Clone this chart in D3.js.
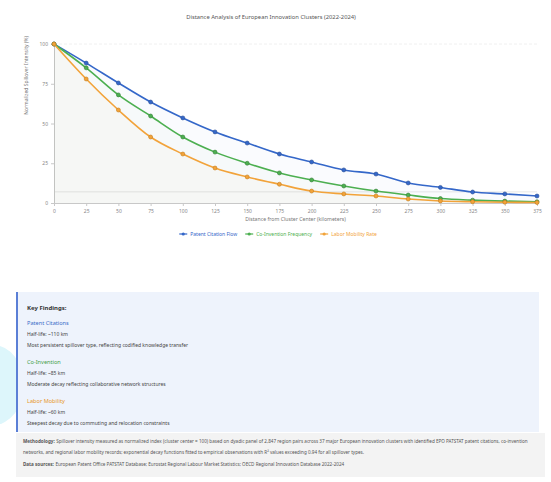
<!DOCTYPE html>
<html>
<head>
<meta charset="utf-8">
<title>Distance Analysis of European Innovation Clusters</title>
<script src="https://cdn.jsdelivr.net/npm/d3@7"></script>
<style>
  html, body { margin: 0; padding: 0; background: #fff; font-family: "Noto Sans", "DejaVu Sans", sans-serif; }
  #page { position: relative; width: 551px; height: 482px; overflow: hidden; }
  #chart { position: absolute; left: 0; top: 0; }
  .blob { position: absolute; left: -38px; top: 345px; width: 62px; height: 80px; border-radius: 50%; background: #ddf6fb; }
  .findings {
    position: absolute; left: 16px; top: 292px; width: 513px; height: 140px;
    background: #eef3fc; border-left: 2px solid #5b7fd6; padding: 0 0 0 8px; box-sizing: content-box;
    font-size: 5px; color: #444; line-height: 1;
  }
  .findings h4 { margin: 0; position: absolute; top: 13px; left: 9px; font-size: 6px; color: #333; }
  .item { position: absolute; left: 9px; }
  .item .name { font-size: 5.6px; }
  .item div { height: 11px; line-height: 11px; white-space: nowrap; }
  .method {
    position: absolute; left: 16px; top: 433px; width: 515px; height: 44px;
    background: #f3f3f3; padding: 0 7px; font-size: 4.6px; color: #555; line-height: 10.5px;
  }
  .method p { margin: 0; white-space: nowrap; }
  .method .lbl { font-weight: bold; margin-right: 1.5px; }
</style>
</head>
<body>
<div id="page">
  <div class="blob"></div>
  <svg id="chart" width="551" height="250"></svg>
  <div class="findings">
    <h4>Key Findings:</h4>
    <div class="item" style="top:26px">
      <div class="name" style="color:#3a6cc8">Patent Citations</div>
      <div>Half-life: ~110 km</div>
      <div>Most persistent spillover type, reflecting codified knowledge transfer</div>
    </div>
    <div class="item" style="top:65px">
      <div class="name" style="color:#44a04a">Co-Invention</div>
      <div>Half-life: ~85 km</div>
      <div>Moderate decay reflecting collaborative network structures</div>
    </div>
    <div class="item" style="top:104px">
      <div class="name" style="color:#e8962a">Labor Mobility</div>
      <div>Half-life: ~60 km</div>
      <div>Steepest decay due to commuting and relocation constraints</div>
    </div>
  </div>
  <div class="method">
    <p style="margin-top:3px"><span class="lbl">Methodology:</span><span>Spillover intensity measured as normalized index (cluster center = 100) based on dyadic panel of 2,847 region pairs across 37 major European innovation clusters with identified EPO PATSTAT patent citations, co-invention</span></p>
    <p><span>networks, and regional labor mobility records; exponential decay functions fitted to empirical observations with R² values exceeding 0.94 for all spillover types.</span></p>
    <p style="margin-top:2px"><span class="lbl">Data sources:</span><span>European Patent Office PATSTAT Database; Eurostat Regional Labour Market Statistics; OECD Regional Innovation Database 2022-2024</span></p>
  </div>
</div>
<script>
// distance from cluster center (km)
const distances = [0, 25, 50, 75, 100, 125, 150, 175, 200, 225, 250, 275, 300, 325, 350, 375];
const patentCitations = [100, 88, 75.5, 63.5, 53.5, 44.7, 37.7, 30.8, 25.8, 20.8, 18.2, 12.6, 9.8, 6.9, 5.7, 4.4];
const coInvention = [100, 85, 68, 54.7, 41.5, 32, 25, 18.9, 14.5, 10.7, 7.5, 5, 2.8, 1.8, 1.2, 0.8];
const laborMobility = [100, 78, 58.5, 41.5, 30.8, 22, 16.4, 11.8, 7.5, 5.7, 4.4, 2.5, 1.3, 0.8, 0.5, 0.3];
const yTicks = [0, 25, 50, 75, 100];
const thresholdValue = 7;

const series = [
  { name: "Patent Citation Flow", values: patentCitations, color: "#3467c9", dark: "#2b4f94" },
  { name: "Co-Invention Frequency", values: coInvention, color: "#4caf50", dark: "#367d39" },
  { name: "Labor Mobility Rate", values: laborMobility, color: "#f2a33a", dark: "#c47d1c" }
];

const margin = { top: 44, left: 54 };
const width = 483, height = 159;

const svg = d3.select("#chart");
svg.append("text")
  .attr("x", 271).attr("y", 19)
  .attr("text-anchor", "middle")
  .attr("font-size", "5.8px").attr("fill", "#555")
  .text("Distance Analysis of European Innovation Clusters (2022-2024)");

const g = svg.append("g").attr("transform", `translate(${margin.left},${margin.top})`);

const x = d3.scaleLinear().domain([0, 375]).range([0, width]);
const y = d3.scaleLinear().domain([0, 100]).range([height, 0]);

// faint top gridline and threshold line
g.append("line").attr("x1", 0).attr("x2", width).attr("y1", y(100)).attr("y2", y(100))
  .attr("stroke", "#f0f0f0").attr("stroke-dasharray", "3,2");
g.append("line").attr("x1", 0).attr("x2", width).attr("y1", y(thresholdValue)).attr("y2", y(thresholdValue))
  .attr("stroke", "#e8e8e8");

const yAxis = g.append("g").call(d3.axisLeft(y).tickValues(yTicks).tickSize(3));
const xAxis = g.append("g").attr("transform", `translate(0,${height})`)
  .call(d3.axisBottom(x).tickValues(distances).tickSize(3));
[xAxis, yAxis].forEach(a => {
  a.select(".domain").attr("stroke", "#c8c8c8");
  a.selectAll(".tick line").attr("stroke", "#c8c8c8");
  a.selectAll(".tick text").attr("fill", "#888").attr("font-size", "5px").attr("font-family", "Noto Sans");
});

svg.append("text")
  .attr("transform", "translate(28,36) rotate(-90)")
  .attr("text-anchor", "end")
  .attr("font-size", "5px").attr("fill", "#777")
  .text("Normalized Spillover Intensity (%)");

svg.append("text")
  .attr("x", margin.left + width / 2).attr("y", 221)
  .attr("text-anchor", "middle")
  .attr("font-size", "5.2px").attr("fill", "#777")
  .text("Distance from Cluster Center (kilometers)");

const area = d3.area().x((d, i) => x(distances[i])).y0(height).y1(d => y(d)).curve(d3.curveMonotoneX);
const line = d3.line().x((d, i) => x(distances[i])).y(d => y(d)).curve(d3.curveMonotoneX);

series.forEach(s => {
  g.append("path").datum(s.values).attr("d", area).attr("fill", s.color).attr("opacity", 0.025);
});
series.forEach(s => {
  g.append("path").datum(s.values).attr("d", line)
    .attr("fill", "none").attr("stroke", s.color).attr("stroke-width", 1.6);
  g.selectAll(null).data(s.values).enter().append("circle")
    .attr("cx", (d, i) => x(distances[i])).attr("cy", d => y(d)).attr("r", 2)
    .attr("fill", s.color).attr("stroke", s.dark).attr("stroke-width", 0.6);
});

// legend
const legend = svg.append("g");
let lx = 0;
series.forEach(s => {
  const it = legend.append("g");
  it.append("line").attr("x1", 0).attr("x2", 8).attr("y1", 0).attr("y2", 0).attr("stroke", s.color).attr("stroke-width", 1.2);
  it.append("circle").attr("cx", 4).attr("cy", 0).attr("r", 1.6).attr("fill", s.color);
  const t = it.append("text").attr("x", 11).attr("y", 1.8).attr("font-size", "5px").attr("fill", s.color).text(s.name);
  const w = 11 + t.node().getComputedTextLength();
  it.attr("transform", `translate(${lx},0)`);
  lx += w + 8;
});
legend.attr("transform", `translate(${278 - (lx - 8) / 2},234)`);
</script>
</body>
</html>
